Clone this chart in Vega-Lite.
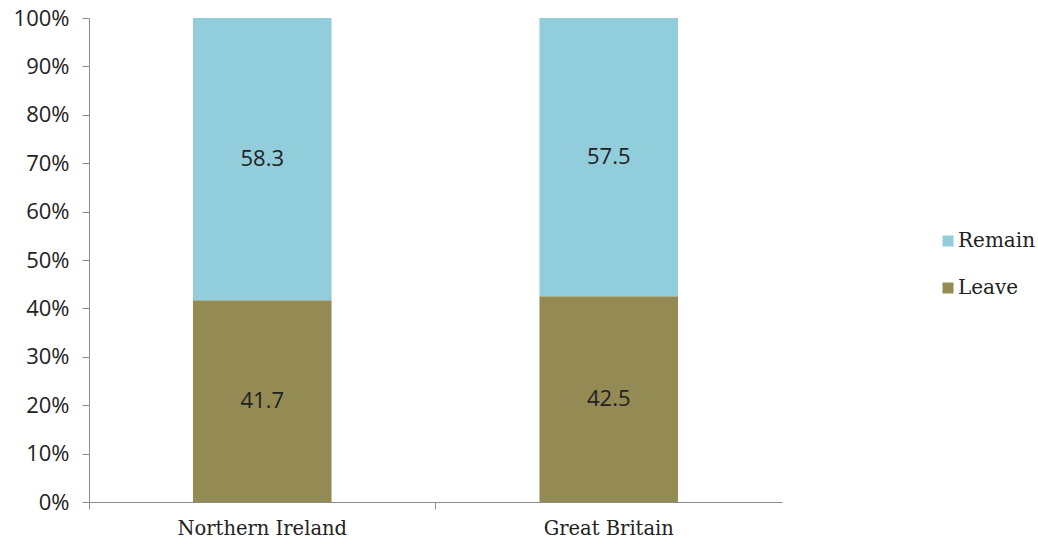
{
  "$schema": "https://vega.github.io/schema/vega-lite/v6.json",
  "width": 693,
  "height": 484,
  "autosize": {"type": "none"},
  "padding": {"left": 89, "top": 18, "right": 256, "bottom": 42},
  "background": "white",
  "config": {"view": {"stroke": null}, "font": "Open Sans"},
  "data": {
    "values": [
      {"region": "Northern Ireland", "answer": "Leave", "pct": 41.7},
      {"region": "Northern Ireland", "answer": "Remain", "pct": 58.3},
      {"region": "Great Britain", "answer": "Leave", "pct": 42.5},
      {"region": "Great Britain", "answer": "Remain", "pct": 57.5}
    ]
  },
  "encoding": {
    "x": {
      "field": "region",
      "type": "nominal",
      "sort": ["Northern Ireland", "Great Britain"],
      "scale": {"paddingInner": 0.6, "paddingOuter": 0.3},
      "axis": {
        "title": null,
        "labelAngle": 0,
        "labelFont": "DejaVu Serif",
        "labelFontSize": 19.5,
        "labelColor": "#222222",
        "domainColor": "#8c8c8c",
        "tickColor": "#8c8c8c",
        "tickSize": 7,
        "labelPadding": 10,
        "bandPosition": -0.75
      }
    }
  },
  "layer": [
    {
      "mark": {"type": "bar"},
      "encoding": {
        "y": {
          "field": "pct",
          "type": "quantitative",
          "stack": "normalize",
          "title": null,
          "scale": {"domain": [0, 1]},
          "axis": {
            "format": "%",
            "values": [0, 0.1, 0.2, 0.3, 0.4, 0.5, 0.6, 0.7, 0.8, 0.9, 1],
            "grid": false,
            "labelFont": "Open Sans",
            "labelFontSize": 22,
            "labelColor": "#222222",
            "domainColor": "#8c8c8c",
            "tickColor": "#8c8c8c",
            "tickSize": 7,
            "labelPadding": 13
          }
        },
        "color": {
          "field": "answer",
          "type": "nominal",
          "scale": {"domain": ["Remain", "Leave"], "range": ["#92CDDC", "#948A54"]},
          "legend": {
            "title": null,
            "orient": "none",
            "legendX": 849,
            "legendY": 213,
            "padding": 0,
            "symbolType": "square",
            "symbolSize": 121,
            "symbolStrokeWidth": 0,
            "symbolOpacity": 1,
            "labelFont": "DejaVu Serif",
            "labelFontSize": 20,
            "labelColor": "#222222",
            "labelOffset": 0,
            "labelLimit": 200,
            "rowPadding": 27
          }
        },
        "order": {"field": "answer", "sort": "ascending"}
      }
    },
    {
      "transform": [
        {"stack": "pct", "groupby": ["region"], "sort": [{"field": "answer", "order": "ascending"}], "as": ["y0", "y1"], "offset": "normalize"},
        {"fold": ["y0", "y1"], "as": ["edge", "pos"]},
        {"aggregate": [{"op": "mean", "field": "pos", "as": "mid"}], "groupby": ["region", "answer", "pct"]}
      ],
      "mark": {"type": "text", "font": "Open Sans", "fontSize": 22, "color": "#222222"},
      "encoding": {
        "y": {"field": "mid", "type": "quantitative", "title": null},
        "text": {"field": "pct", "type": "quantitative", "format": ".1f"}
      }
    }
  ]
}
